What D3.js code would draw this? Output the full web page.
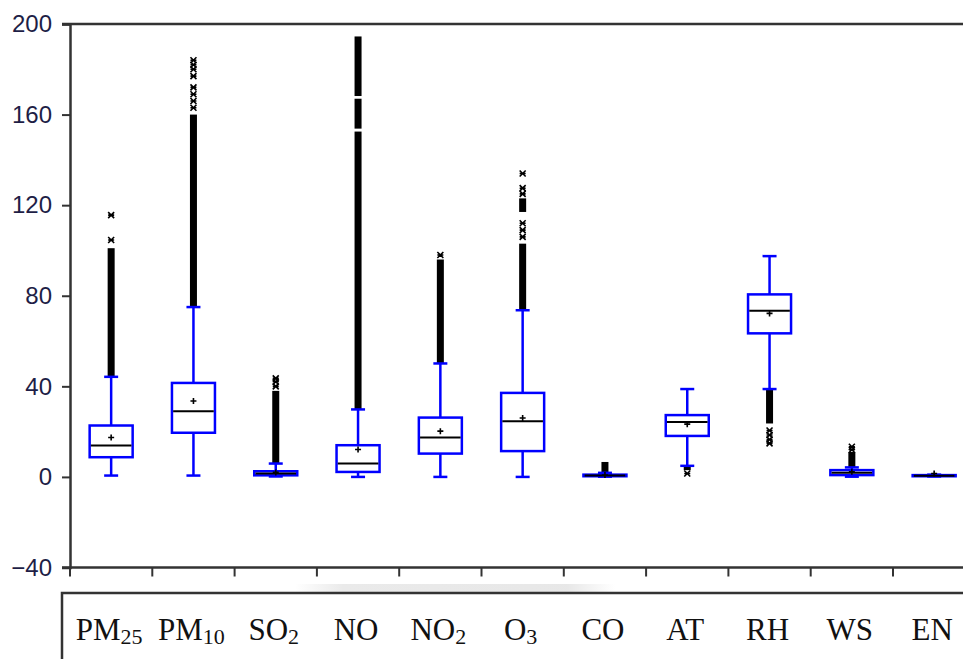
<!DOCTYPE html>
<html>
<head>
<meta charset="utf-8">
<script src="https://cdn.jsdelivr.net/npm/d3@7"></script>
<style>
  body { margin: 0; background: #fff; }
  svg { display: block; }
</style>
</head>
<body>
<script>
// categories and label parts (main text + subscript)
var categories = ["PM25", "PM10", "SO2", "NO", "NO2", "O3", "CO", "AT", "RH", "WS", "EN"];
var labelMain = ["PM", "PM", "SO", "NO", "NO", "O", "CO", "AT", "RH", "WS", "EN"];
var labelSub = ["25", "10", "2", "", "2", "3", "", "", "", "", ""];

// box statistics
var whiskerLow = [0.6, 0.6, 0.2, 0, 0, 0, 0.1, 4.9, 38.8, 0.1, 0.2];
var q1 = [8.7, 19.5, 0.7, 2.2, 10.3, 11.4, 0.3, 18.1, 63.4, 0.8, 0.3];
var median = [13.9, 29, 1.5, 5.9, 17.4, 24.6, 0.6, 24.3, 73.4, 1.8, 0.5];
var q3 = [22.7, 41.5, 2.5, 14, 26.2, 37.1, 1.0, 27.3, 80.6, 3.0, 0.8];
var whiskerHigh = [44.2, 75, 5.9, 29.8, 50.1, 73.6, 1.8, 38.8, 97.5, 4.2, 1.0];
var means = [17.4, 33.5, 2.0, 12.1, 20.2, 26, 0.8, 23.3, 72.2, 2.3, 1.5];

// outliers: runs so dense they merge into a column, and single marks
var denseOutliers = [
    [[44.2, 101]],
    [[75, 160]],
    [[5.9, 38]],
    [[29.8, 152.5], [153.8, 167], [168.2, 194.5]],
    [[50.1, 96]],
    [[73.6, 103], [117, 123]],
    [[1.8, 6.6]],
    [[3, 4.9]],
    [[23.6, 38.8]],
    [[4.2, 11]],
    []
];
var sparseOutliers = [
    [104.6, 115.6],
    [163, 166, 169, 172, 177, 180, 182, 184],
    [40, 42, 43.5],
    [],
    [98],
    [106, 109, 112, 125, 127.5, 134],
    [],
    [1.5],
    [20.5, 18.5, 16.5, 14.8],
    [12, 13.3],
    []
];

var yTicks = [-40, 0, 40, 80, 120, 160, 200];

var w = 963;
var h = 659;

var svg = d3.select("body")
    .append("svg")
    .attr("width", w)
    .attr("height", h);

var xScale = d3.scaleBand()
    .domain(categories)
    .range([70, 70 + 11 * 82.3])
    .paddingInner(0)
    .paddingOuter(0);

var yScale = d3.scaleLinear()
    .domain([-40, 200])
    .range([567.5, 24]);

var axisColor = "#333";
var blue = "#0000ff";
var boxHalf = 21.5;
var capHalf = 7;
var lw = 2.5;

// top frame line
svg.append("line")
    .attr("x1", 62).attr("x2", w)
    .attr("y1", yScale(200)).attr("y2", yScale(200))
    .attr("stroke", axisColor).attr("stroke-width", lw);

// y axis
var yAxis = d3.axisLeft(yScale)
    .tickValues(yTicks)
    .tickSize(8)
    .tickPadding(10)
    .tickFormat(d3.format("d"));

var yg = svg.append("g")
    .attr("transform", "translate(70,0)")
    .call(yAxis);
yg.select(".domain").attr("stroke", axisColor).attr("stroke-width", lw);
yg.selectAll(".tick line").attr("stroke", axisColor).attr("stroke-width", 2);
yg.selectAll(".tick text")
    .attr("fill", "#1e1e46")
    .style("font-family", "'Liberation Sans', Arial, sans-serif")
    .style("font-size", "24px");

// x axis line and ticks at band edges
svg.append("line")
    .attr("x1", 62).attr("x2", w)
    .attr("y1", yScale(-40)).attr("y2", yScale(-40))
    .attr("stroke", axisColor).attr("stroke-width", lw);

var edges = categories.map(function(c) { return xScale(c); });
svg.selectAll(".xtick")
    .data(edges)
    .enter()
    .append("line")
    .attr("class", "xtick")
    .attr("x1", function(d) { return d; })
    .attr("x2", function(d) { return d; })
    .attr("y1", yScale(-40))
    .attr("y2", yScale(-40) + 9)
    .attr("stroke", axisColor)
    .attr("stroke-width", 2);

// faint shadow over the label box
var grad = svg.append("defs").append("linearGradient")
    .attr("id", "shade")
    .attr("x1", "0").attr("x2", "1").attr("y1", "0").attr("y2", "0");
grad.append("stop").attr("offset", "0").attr("stop-color", "#fff");
grad.append("stop").attr("offset", "0.15").attr("stop-color", "#dcdcdc");
grad.append("stop").attr("offset", "0.85").attr("stop-color", "#d8d8d8");
grad.append("stop").attr("offset", "1").attr("stop-color", "#fff");
svg.append("rect")
    .attr("x", 295).attr("y", 584)
    .attr("width", 320).attr("height", 8)
    .attr("fill", "url(#shade)")
    .attr("opacity", 0.6);

// label box
svg.append("path")
    .attr("d", "M62," + h + "V593H" + w)
    .attr("fill", "none")
    .attr("stroke", axisColor)
    .attr("stroke-width", lw);

var data = categories.map(function(c, i) {
    return {
        name: c,
        lo: whiskerLow[i], q1: q1[i], med: median[i], q3: q3[i], hi: whiskerHigh[i],
        mean: means[i], dense: denseOutliers[i], sparse: sparseOutliers[i],
        main: labelMain[i], sub: labelSub[i]
    };
});

function cx(d) { return xScale(d.name) + xScale.bandwidth() / 2; }

var g = svg.selectAll(".box")
    .data(data)
    .enter()
    .append("g")
    .attr("class", "box");

// dense outlier columns and single outlier marks
g.each(function(d) {
    var sel = d3.select(this);
    d.dense.forEach(function(r) {
        sel.append("rect")
            .attr("x", cx(d) - 3.5)
            .attr("y", yScale(r[1]))
            .attr("width", 7)
            .attr("height", yScale(r[0]) - yScale(r[1]))
            .attr("fill", "#000");
    });
    d.sparse.forEach(function(v) {
        var x = cx(d), y = yScale(v);
        sel.append("path")
            .attr("d", "M" + (x - 3) + "," + (y - 3) + "L" + (x + 3) + "," + (y + 3) +
                "M" + (x + 3) + "," + (y - 3) + "L" + (x - 3) + "," + (y + 3) +
                "M" + (x - 3) + "," + y + "L" + (x + 3) + "," + y)
            .attr("stroke", "#000")
            .attr("stroke-width", 1.6)
            .attr("fill", "none");
    });
});

// whiskers
g.append("line")
    .attr("x1", cx).attr("x2", cx)
    .attr("y1", function(d) { return yScale(d.hi); })
    .attr("y2", function(d) { return yScale(d.q3); })
    .attr("stroke", blue).attr("stroke-width", lw);
g.append("line")
    .attr("x1", cx).attr("x2", cx)
    .attr("y1", function(d) { return yScale(d.q1); })
    .attr("y2", function(d) { return yScale(d.lo); })
    .attr("stroke", blue).attr("stroke-width", lw);

// whisker caps
g.append("line")
    .attr("x1", function(d) { return cx(d) - capHalf; })
    .attr("x2", function(d) { return cx(d) + capHalf; })
    .attr("y1", function(d) { return yScale(d.hi); })
    .attr("y2", function(d) { return yScale(d.hi); })
    .attr("stroke", blue).attr("stroke-width", lw);
g.append("line")
    .attr("x1", function(d) { return cx(d) - capHalf; })
    .attr("x2", function(d) { return cx(d) + capHalf; })
    .attr("y1", function(d) { return yScale(d.lo); })
    .attr("y2", function(d) { return yScale(d.lo); })
    .attr("stroke", blue).attr("stroke-width", lw);

// boxes
g.append("rect")
    .attr("x", function(d) { return cx(d) - boxHalf; })
    .attr("y", function(d) { return yScale(d.q3); })
    .attr("width", boxHalf * 2)
    .attr("height", function(d) { return Math.max(yScale(d.q1) - yScale(d.q3), 1); })
    .attr("fill", "#fff")
    .attr("stroke", blue)
    .attr("stroke-width", lw);

// medians
g.append("line")
    .attr("x1", function(d) { return cx(d) - boxHalf + 1.2; })
    .attr("x2", function(d) { return cx(d) + boxHalf - 1.2; })
    .attr("y1", function(d) { return yScale(d.med); })
    .attr("y2", function(d) { return yScale(d.med); })
    .attr("stroke", "#000").attr("stroke-width", 2);

// means
g.append("path")
    .attr("d", function(d) {
        var x = cx(d), y = yScale(d.mean);
        return "M" + (x - 3) + "," + y + "H" + (x + 3) + "M" + x + "," + (y - 3) + "V" + (y + 3);
    })
    .attr("stroke", "#000")
    .attr("stroke-width", 1.6);

// category labels with subscripts
var lab = g.append("text")
    .attr("x", function(d) { return cx(d) - 2; })
    .attr("y", 640)
    .attr("text-anchor", "middle")
    .style("font-family", "'Liberation Serif', 'Times New Roman', serif")
    .style("font-size", "31px")
    .attr("fill", "#111");
lab.append("tspan").text(function(d) { return d.main; });
lab.append("tspan")
    .attr("dy", 4)
    .style("font-size", "22px")
    .text(function(d) { return d.sub; });
</script>
</body>
</html>
